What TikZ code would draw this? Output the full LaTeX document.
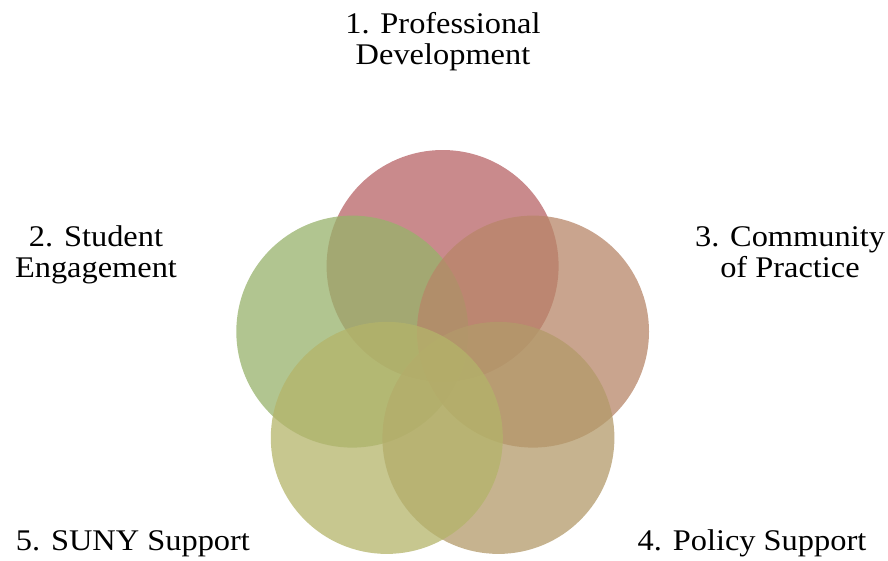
\documentclass[tikz,border=0pt]{standalone}
\usepackage{fontspec}
\setmainfont{Liberation Serif}[FakeStretch=1.08]
\definecolor{prored}{RGB}{183,99,102}
\definecolor{stugreen}{RGB}{151,178,107}
\definecolor{combrown}{RGB}{183,134,104}
\definecolor{poltan}{RGB}{179,154,106}
\definecolor{sunyolive}{RGB}{180,180,106}
\begin{document}
\begin{tikzpicture}[x=1pt,y=-1pt,
	ring_node/.style={circle,minimum size=232pt,inner sep=0pt,fill opacity=0.75},
	label_node/.style={align=center,inner sep=0pt,font=\fontsize{30}{31}\selectfont}]
		
		\useasboundingbox (0,0) rectangle (888,560);
		
		\node[ring_node,fill=prored] (c1) at (442.6,266) {};
		\node[ring_node,fill=stugreen] (c2) at (352.3,331.6) {};
		\node[ring_node,fill=combrown] (c3) at (533,331.6) {};
		\node[ring_node,fill=poltan] (c4) at (498.4,437.9) {};
		\node[ring_node,fill=sunyolive] (c5) at (386.8,437.9) {};
		
		\node[label_node,anchor=base] (l1) at (443,64) {1. Professional\\Development};
		\node[label_node,anchor=base] (l2) at (96,277) {2. Student\\Engagement};
		\node[label_node,anchor=base] (l3) at (790,277) {3. Community\\of Practice};
		\node[label_node,anchor=base] (l4) at (752,550) {4. Policy Support};
		\node[label_node,anchor=base] (l5) at (133,550) {5. SUNY Support};
		\end{tikzpicture}
\end{document}
